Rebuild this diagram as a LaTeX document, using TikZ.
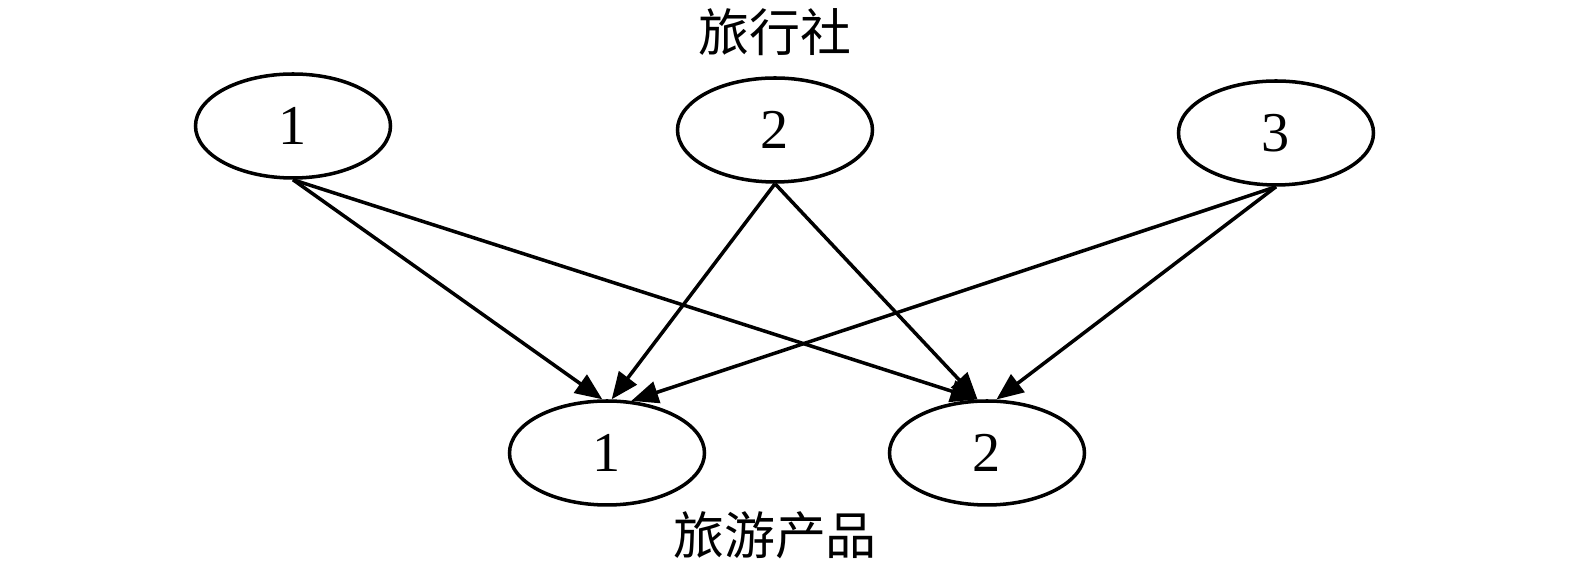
\documentclass[tikz,border=0pt]{standalone}
\usepackage{fontspec}
\setmainfont{Liberation Serif}
\newfontfamily\cjk{Noto Sans CJK SC}
\usetikzlibrary{arrows.meta,shapes.geometric}

\begin{document}
\begin{tikzpicture}[
  agent/.style={draw, ellipse, line width=1pt, minimum width=1.95cm, minimum height=1.04cm, inner sep=0pt, font=\fontsize{16}{18}\selectfont},
  edge/.style={line width=1pt, -{Triangle[length=0.27cm, width=0.22cm]}},
  group/.style={font=\cjk\fontsize{14.5}{17}\selectfont}
]
\useasboundingbox (0,0) rectangle (15.75,5.66);
% Travel agencies
\node[agent] (t1) at (2.93,4.40) {1};
\node[agent] (t2) at (7.75,4.36) {2};
\node[agent] (t3) at (12.76,4.33) {3};
\node[group] (agency) at (7.75,5.34) {旅行社};
% Tourism products
\node[agent] (b1) at (6.07,1.13) {1};
\node[agent] (b2) at (9.87,1.13) {2};
\node[group] (product) at (7.75,0.31) {旅游产品};
% Every agency offers every product
\foreach \s/\t in {t1/b1.95,t1/b2.100,t2/b1.85,t2/b2.100,t3/b1.65,t3/b2.80} {
  \draw[edge] (\s.south) -- (\t);
}
\end{tikzpicture}
\end{document}
